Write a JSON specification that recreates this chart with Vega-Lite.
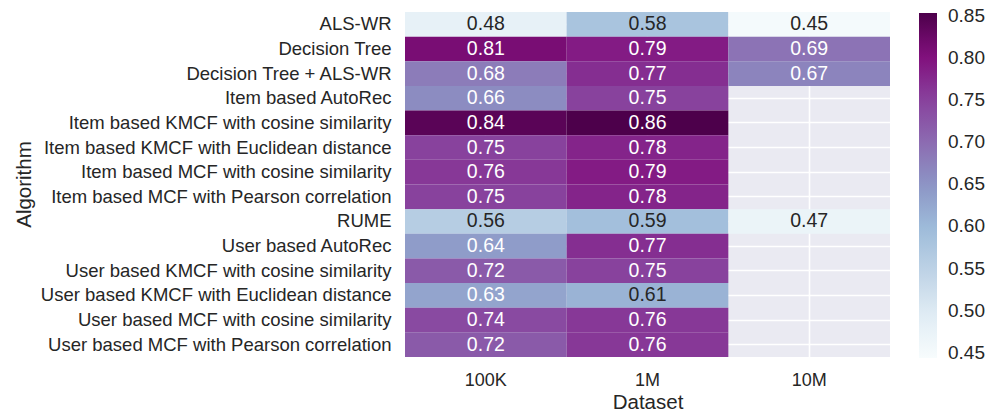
{
  "$schema": "https://vega.github.io/schema/vega-lite/v6.json",
  "width": 485,
  "height": 345,
  "autosize": {"type": "none"},
  "padding": {"left": 405, "top": 12, "right": 101, "bottom": 56},
  "background": "white",
  "config": {
    "font": "Liberation Sans",
    "view": {"fill": "#eaeaf2", "stroke": null},
    "axis": {"zindex": 0, "domain": false, "ticks": false, "tickSize": 0, "grid": true, "gridColor": "white", "gridWidth": 1.6, "bandPosition": 0.5, "labelColor": "#262626", "titleColor": "#262626", "labelFont": "Liberation Sans", "titleFont": "Liberation Sans", "titleFontWeight": "normal"}
  },
  "data": {"values": [
    {"Algorithm": "ALS-WR", "Dataset": "100K", "value": 0.48},
    {"Algorithm": "ALS-WR", "Dataset": "1M", "value": 0.58},
    {"Algorithm": "ALS-WR", "Dataset": "10M", "value": 0.45},
    {"Algorithm": "Decision Tree", "Dataset": "100K", "value": 0.81},
    {"Algorithm": "Decision Tree", "Dataset": "1M", "value": 0.79},
    {"Algorithm": "Decision Tree", "Dataset": "10M", "value": 0.69},
    {"Algorithm": "Decision Tree + ALS-WR", "Dataset": "100K", "value": 0.68},
    {"Algorithm": "Decision Tree + ALS-WR", "Dataset": "1M", "value": 0.77},
    {"Algorithm": "Decision Tree + ALS-WR", "Dataset": "10M", "value": 0.67},
    {"Algorithm": "Item based AutoRec", "Dataset": "100K", "value": 0.66},
    {"Algorithm": "Item based AutoRec", "Dataset": "1M", "value": 0.75},
    {"Algorithm": "Item based KMCF with cosine similarity", "Dataset": "100K", "value": 0.84},
    {"Algorithm": "Item based KMCF with cosine similarity", "Dataset": "1M", "value": 0.86},
    {"Algorithm": "Item based KMCF with Euclidean distance", "Dataset": "100K", "value": 0.75},
    {"Algorithm": "Item based KMCF with Euclidean distance", "Dataset": "1M", "value": 0.78},
    {"Algorithm": "Item based MCF with cosine similarity", "Dataset": "100K", "value": 0.76},
    {"Algorithm": "Item based MCF with cosine similarity", "Dataset": "1M", "value": 0.79},
    {"Algorithm": "Item based MCF with Pearson correlation", "Dataset": "100K", "value": 0.75},
    {"Algorithm": "Item based MCF with Pearson correlation", "Dataset": "1M", "value": 0.78},
    {"Algorithm": "RUME", "Dataset": "100K", "value": 0.56},
    {"Algorithm": "RUME", "Dataset": "1M", "value": 0.59},
    {"Algorithm": "RUME", "Dataset": "10M", "value": 0.47},
    {"Algorithm": "User based AutoRec", "Dataset": "100K", "value": 0.64},
    {"Algorithm": "User based AutoRec", "Dataset": "1M", "value": 0.77},
    {"Algorithm": "User based KMCF with cosine similarity", "Dataset": "100K", "value": 0.72},
    {"Algorithm": "User based KMCF with cosine similarity", "Dataset": "1M", "value": 0.75},
    {"Algorithm": "User based KMCF with Euclidean distance", "Dataset": "100K", "value": 0.63},
    {"Algorithm": "User based KMCF with Euclidean distance", "Dataset": "1M", "value": 0.61},
    {"Algorithm": "User based MCF with cosine similarity", "Dataset": "100K", "value": 0.74},
    {"Algorithm": "User based MCF with cosine similarity", "Dataset": "1M", "value": 0.76},
    {"Algorithm": "User based MCF with Pearson correlation", "Dataset": "100K", "value": 0.72},
    {"Algorithm": "User based MCF with Pearson correlation", "Dataset": "1M", "value": 0.76}
  ]},
  "encoding": {
    "x": {"field": "Dataset", "type": "nominal", "sort": ["100K", "1M", "10M"],
          "scale": {"domain": ["100K", "1M", "10M"], "paddingInner": 0, "paddingOuter": 0},
          "axis": {"labelAngle": 0, "labelFontSize": 18, "labelPadding": 14, "titleFontSize": 20.5, "titlePadding": 3}},
    "y": {"field": "Algorithm", "type": "nominal",
          "scale": {"domain": ["ALS-WR", "Decision Tree", "Decision Tree + ALS-WR", "Item based AutoRec", "Item based KMCF with cosine similarity", "Item based KMCF with Euclidean distance", "Item based MCF with cosine similarity", "Item based MCF with Pearson correlation", "RUME", "User based AutoRec", "User based KMCF with cosine similarity", "User based KMCF with Euclidean distance", "User based MCF with cosine similarity", "User based MCF with Pearson correlation"], "paddingInner": 0, "paddingOuter": 0},
          "axis": {"labelFontSize": 18.5, "labelPadding": 14, "labelLimit": 500, "titleFontSize": 20.5, "titleX": -381, "titleY": 172, "titleAngle": -90, "titleAlign": "center", "titleBaseline": "middle"}}
  },
  "layer": [
    {
      "mark": {"type": "rect"},
      "encoding": {
        "color": {"field": "value", "type": "quantitative",
                  "scale": {"type": "linear", "domain": [0.444, 0.495125, 0.54625, 0.597375, 0.6485, 0.699625, 0.75075, 0.801875, 0.853],
                            "range": ["#f7fcfd", "#e0ecf4", "#bfd3e6", "#9ebcda", "#8c96c6", "#8c6bb1", "#88419d", "#810f7c", "#4d004b"],
                            "interpolate": "rgb", "clamp": true},
                  "legend": {"title": null, "orient": "none", "legendX": 514, "legendY": 1, "padding": 0,
                             "gradientLength": 345, "gradientThickness": 18, "gradientStrokeWidth": 0,
                             "values": [0.45, 0.5, 0.55, 0.6, 0.65, 0.7, 0.75, 0.8, 0.85],
                             "format": ".2f", "labelFontSize": 19, "labelColor": "#262626", "labelOffset": 11, "labelOverlap": false}}
      }
    },
    {
      "mark": {"type": "text", "fontSize": 19.5, "align": "center", "baseline": "middle"},
      "encoding": {
        "text": {"field": "value", "type": "quantitative", "format": ".2f"},
        "color": {"condition": {"test": "datum.value > 0.62", "value": "white"}, "value": "#262626"}
      }
    }
  ]
}
